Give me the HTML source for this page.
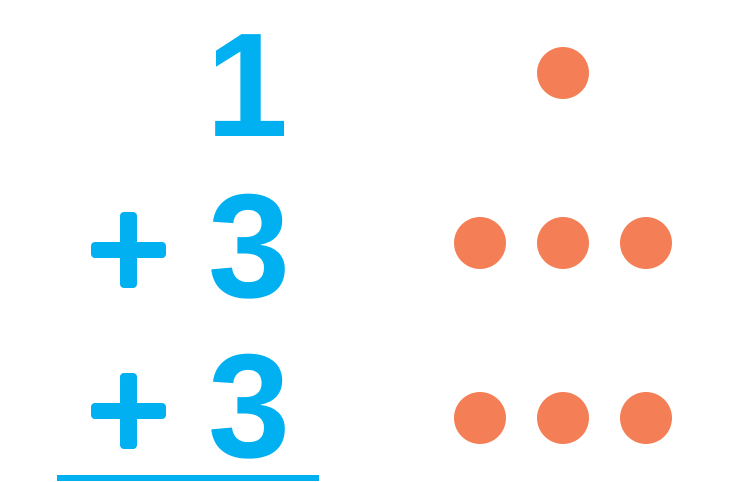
<!DOCTYPE html>
<html><head><meta charset="utf-8"><style>html,body{margin:0;padding:0;background:#fff;width:752px;height:482px;overflow:hidden}</style></head>
<body>
<svg width="752" height="482" viewBox="0 0 752 482" xmlns="http://www.w3.org/2000/svg">
<g fill="#00B0F0" font-family="Liberation Sans, sans-serif" font-weight="bold" font-size="148" text-anchor="middle">
<text x="247" y="136">1</text>
<text x="249" y="297">3</text>
<text x="249" y="457">3</text>
</g>
<g fill="#00B0F0">
<rect x="120" y="212" width="17" height="76" rx="4"/>
<rect x="91" y="242" width="75" height="16" rx="4"/>
<rect x="120" y="373" width="17" height="76" rx="4"/>
<rect x="91" y="403" width="75" height="16" rx="4"/>
<rect x="57" y="475" width="262" height="6"/>
</g>
<g fill="#F47E55">
<circle cx="563" cy="73" r="26"/>
<circle cx="480" cy="243" r="26"/>
<circle cx="563" cy="243" r="26"/>
<circle cx="646" cy="243" r="26"/>
<circle cx="480" cy="418" r="26"/>
<circle cx="563" cy="418" r="26"/>
<circle cx="646" cy="418" r="26"/>
</g>
</svg>
</body></html>
